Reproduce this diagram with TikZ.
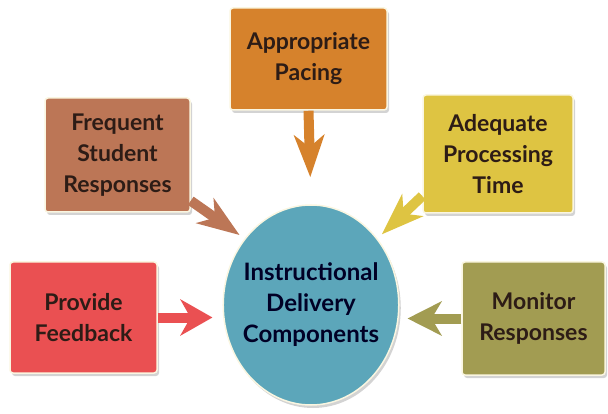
\documentclass[tikz,border=0pt]{standalone}
\usepackage{fontspec}
\setmainfont{Lato}
\usetikzlibrary{shapes.geometric,shadows,arrows.meta}
\definecolor{paceC}{RGB}{214,130,44}
\definecolor{freqC}{RGB}{188,118,86}
\definecolor{adeqC}{RGB}{222,196,66}
\definecolor{feedC}{RGB}{234,80,82}
\definecolor{moniC}{RGB}{162,156,82}
\definecolor{idcC}{RGB}{92,166,186}
\definecolor{txtC}{RGB}{45,28,22}
\definecolor{rimC}{RGB}{250,246,225}
\tikzset{
  box/.style={draw=rimC,line width=1.5pt,rounded corners=3pt,align=center,
    font=\fontsize{23}{31}\selectfont\bfseries,text=txtC,
    drop shadow={shadow xshift=2pt,shadow yshift=-3pt,opacity=0.35}},
  fat/.style={line width=10pt,-{Stealth[length=42pt,width=30pt,inset=12pt]}}
}
\begin{document}
\begin{tikzpicture}[x=1pt,y=-1pt]
\useasboundingbox (0,0) rectangle (608,414);
\node[box,fill=paceC,minimum width=157pt,minimum height=102pt] (pace) at (308.5,59) {Appropriate\\Pacing};
\node[box,fill=freqC,minimum width=145pt,minimum height=114pt] (freq) at (117.5,155) {Frequent\\Student\\Responses};
\node[box,fill=adeqC,minimum width=150pt,minimum height=118pt] (adeq) at (498,154) {Adequate\\Processing\\Time};
\node[box,fill=feedC,minimum width=147pt,minimum height=111pt] (feed) at (83.5,317.5) {Provide\\Feedback};
\node[box,fill=moniC,minimum width=143pt,minimum height=113pt] (moni) at (533.5,318.5) {Monitor\\Responses};
\node[box,ellipse,fill=idcC,text=black!85!blue,font=\fontsize{24}{31}\selectfont\bfseries,inner xsep=-6pt,inner ysep=0pt,minimum width=172pt,minimum height=200pt] (idc) at (311,305) {Instructional\\Delivery\\Components};
\draw[fat,paceC,shorten >=27pt] (pace.south)--(idc.north);
\draw[fat,freqC,shorten >=6pt] (freq.-32)--(idc.135);
\draw[fat,adeqC,shorten >=6pt] (adeq.-151)--(idc.45);
\draw[fat,feedC,-{Stealth[length=32pt,width=36pt,inset=10pt]},shorten >=10pt] (feed.east)--(feed-|idc.west);
\draw[fat,moniC,-{Stealth[length=34pt,width=34pt,inset=10pt]},shorten >=8pt] (moni.west)--(moni-|idc.east);
\end{tikzpicture}
\end{document}
